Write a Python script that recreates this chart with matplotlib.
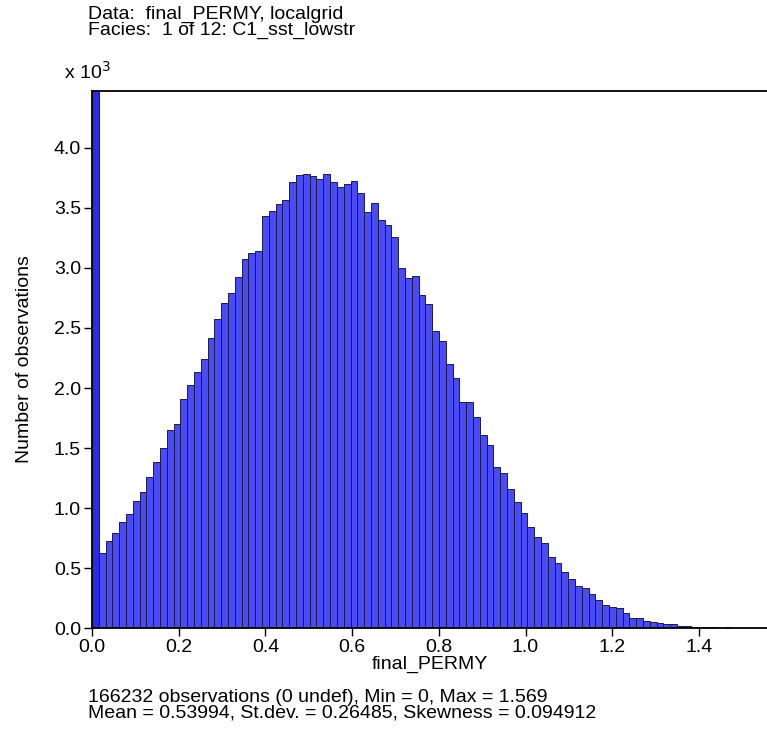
import numpy as np
import matplotlib
matplotlib.use("Agg")
import matplotlib.pyplot as plt

plt.rcParams["font.family"] = ["Liberation Sans", "DejaVu Sans"]

# histogram of final_PERMY: 100 bins from Min to Max, counts in thousands
X_MIN = 0.0
X_MAX = 1.569
N_BINS = 100
counts_k = [
    4.90, 0.625, 0.729, 0.789, 0.881, 0.946, 1.057, 1.131, 1.262, 1.381,
    1.497, 1.646, 1.696, 1.905, 2.024, 2.134, 2.238, 2.414, 2.577, 2.711,
    2.789, 2.923, 3.071, 3.122, 3.140, 3.435, 3.479, 3.530, 3.568, 3.716,
    3.772, 3.786, 3.767, 3.739, 3.786, 3.719, 3.678, 3.703, 3.728, 3.622,
    3.464, 3.544, 3.400, 3.361, 3.261, 3.000, 2.919, 2.931, 2.775, 2.697,
    2.475, 2.392, 2.200, 2.081, 1.886, 1.881, 1.756, 1.608, 1.525, 1.339,
    1.289, 1.158, 1.053, 0.956, 0.839, 0.758, 0.708, 0.594, 0.539, 0.464,
    0.411, 0.350, 0.331, 0.281, 0.233, 0.192, 0.175, 0.167, 0.122, 0.083,
    0.081, 0.061, 0.047, 0.039, 0.036, 0.031, 0.019, 0.014, 0.011, 0.008,
    0.008, 0.005, 0.003, 0.006, 0.002, 0.002, 0.001, 0.001, 0.001, 0.001,
]
x_ticks = [0.0, 0.2, 0.4, 0.6, 0.8, 1.0, 1.2, 1.4]
y_ticks = [0.0, 0.5, 1.0, 1.5, 2.0, 2.5, 3.0, 3.5, 4.0]

header = ["Data:  final_PERMY, localgrid", "Facies:  1 of 12: C1_sst_lowstr"]
footer = ["166232 observations (0 undef), Min = 0, Max = 1.569",
          "Mean = 0.53994, St.dev. = 0.26485, Skewness = 0.094912"]

FS = 14

fig = plt.figure(figsize=(7.67, 7.33), dpi=100)
ax = fig.add_axes([0.12, 0.1432, 0.88, 0.7327])

edges = np.linspace(X_MIN, X_MAX, N_BINS + 1)
width = edges[1] - edges[0]
bars = ax.bar(edges[:-1], counts_k, width=width, align="edge",
              color="#4b4bf5", edgecolor="#1a1a4a", linewidth=0.7)
bars[0].set_facecolor("#2a2ae8")  # clipped spike at zero looks darker

ax.set_xlim(0, 1.557)
ax.set_ylim(0, 4.475)
ax.set_xticks(x_ticks)
ax.set_xticklabels([f"{v:.1f}" for v in x_ticks])
ax.set_yticks(y_ticks)
ax.set_yticklabels([f"{v:.1f}" for v in y_ticks])
ax.tick_params(direction="out", length=6, width=1, labelsize=FS, pad=2)
for s in ["left", "bottom", "top"]:
    ax.spines[s].set_linewidth(1.3)
ax.spines["right"].set_visible(False)

ax.set_xlabel("final_PERMY", fontsize=FS, labelpad=0)
ax.set_ylabel("Number of observations", fontsize=FS)
ax.yaxis.set_label_coords(-0.087, 0.5)

fig.text(88 / 767, 1 - 14 / 733, header[0], fontsize=FS, va="center", ha="left")
fig.text(88 / 767, 1 - 30 / 733, header[1], fontsize=FS, va="center", ha="left")
fig.text(64 / 767, 1 - 72 / 733, r"x 10$^{3}$", fontsize=FS, va="center", ha="left")
fig.text(88 / 767, 1 - 697 / 733, footer[0], fontsize=FS, va="center", ha="left")
fig.text(88 / 767, 1 - 713 / 733, footer[1], fontsize=FS, va="center", ha="left")

fig.savefig("out.png", dpi=100)
